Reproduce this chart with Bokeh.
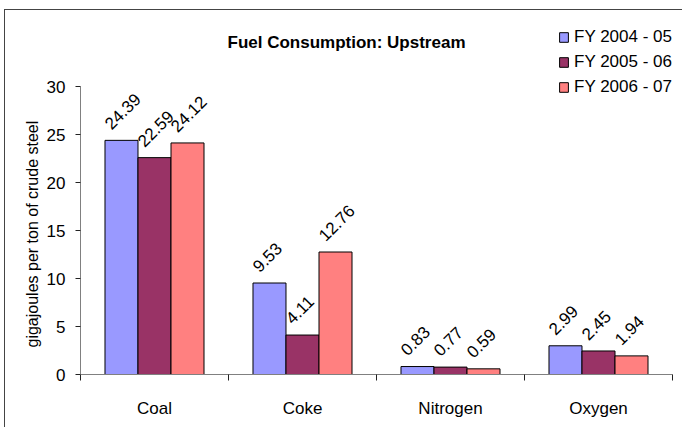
import numpy as np
from bokeh.plotting import figure
from bokeh.models import (ColumnDataSource, FixedTicker, Legend, LegendItem,
                          Label, Range1d, Title)
from bokeh.transform import dodge
from bokeh.core.properties import value
from bokeh.embed import file_html
from bokeh.resources import INLINE

# Fuel consumption per ton of crude steel (GJ/t), upstream processes
categories = ["Coal", "Coke", "Nitrogen", "Oxygen"]
years = ["FY 2004 - 05", "FY 2005 - 06", "FY 2006 - 07"]
fy_2004_05 = [24.39, 9.53, 0.83, 2.99]
fy_2005_06 = [22.59, 4.11, 0.77, 2.45]
fy_2006_07 = [24.12, 12.76, 0.59, 1.94]
colors = ["#9999FF", "#993366", "#FF8080"]
y_ticks = [0, 5, 10, 15, 20, 25, 30]
y_max = 30

FONT = "Liberation Sans"
n_cat = len(categories)
centers = [i + 0.5 for i in range(n_cat)]
bounds = list(range(n_cat + 1))

src = ColumnDataSource(dict(x=centers, cat=categories,
                            s0=fy_2004_05, s1=fy_2005_06, s2=fy_2006_07,
                            t0=[f"{v:.2f}" for v in fy_2004_05],
                            t1=[f"{v:.2f}" for v in fy_2005_06],
                            t2=[f"{v:.2f}" for v in fy_2006_07]))

# the frame fills the canvas above and to the right, so the title and legend
# sit inside it; both axes are bounded to the data span
W, H = 678, 418
border_l, border_r, border_t, border_b = 75, 0, 0, 54
axis_px_y = 288   # pixel height of the 0..30 span
axis_px_x = 592   # pixel width of the four categories
frame_h = H - border_t - border_b
frame_w = W - border_l - border_r
y_end = y_max * frame_h / axis_px_y
x_end = n_cat * frame_w / axis_px_x

p = figure(width=W, height=H, output_backend="svg", toolbar_location=None,
           x_range=Range1d(0, x_end), y_range=Range1d(0, y_end),
           min_border_left=border_l, min_border_right=border_r,
           min_border_top=border_t, min_border_bottom=border_b,
           background_fill_color="white", border_fill_color="white")
p.styles = {"margin-left": "4px", "margin-top": "9px",
            "border-left": "1px solid #444", "border-top": "1px solid #444"}
p.outline_line_color = None
p.xgrid.visible = False
p.ygrid.visible = False

bar_w = 0.223
offsets = [-bar_w, 0.0, bar_w]
renderers = []
for k, (col, tcol) in enumerate([("s0", "t0"), ("s1", "t1"), ("s2", "t2")]):
    r = p.vbar(x=dodge("x", offsets[k], range=p.x_range), top=col, width=bar_w,
               source=src, fill_color=colors[k], line_color="black",
               line_width=1)
    renderers.append(r)
    p.text(x=dodge("x", offsets[k], range=p.x_range), y=col, text=tcol,
           source=src, angle=np.pi / 4, x_offset=-14, y_offset=-14,
           text_align="left", text_baseline="alphabetic",
           text_font=value(FONT), text_font_size="17px", text_color="black")

# x axis: labels at category centres, tick marks between categories
xa = p.xaxis[0]
xa.ticker = FixedTicker(ticks=centers, minor_ticks=bounds)
xa.bounds = (0, n_cat)
xa.major_label_overrides = {c: name for c, name in zip(centers, categories)}
xa.major_tick_line_color = None
xa.major_tick_out = 0
xa.major_tick_in = 0
xa.minor_tick_out = 6
xa.minor_tick_in = 0
xa.minor_tick_line_color = "#222222"
xa.axis_line_color = "#808080"
xa.major_label_standoff = 18
xa.major_label_text_font = FONT
xa.major_label_text_font_size = "17px"
xa.major_label_text_color = "black"

ya = p.yaxis[0]
ya.ticker = FixedTicker(ticks=y_ticks, minor_ticks=[])
ya.bounds = (0, y_max)
ya.axis_line_color = "#808080"
ya.major_tick_line_color = "#222222"
ya.major_tick_out = 5
ya.major_tick_in = 0
ya.major_label_standoff = 10
ya.major_label_text_font = FONT
ya.major_label_text_font_size = "17px"
ya.major_label_text_color = "black"

# value-axis caption, anchored at the bottom of the 0..30 span
y_caption = Title(text="gigajoules per ton of crude steel", align="left",
                  offset=27, standoff=6, text_font=FONT,
                  text_font_size="16px", text_font_style="normal",
                  text_color="black")
p.add_layout(y_caption, "left")

legend = Legend(items=[LegendItem(label=years[k], renderers=[renderers[k]])
                       for k in range(3)],
                location=(478, 277), orientation="vertical",
                padding=0, margin=0, spacing=5, glyph_width=11,
                glyph_height=12, label_standoff=5, label_height=20,
                label_text_font=FONT, label_text_font_size="17px",
                label_text_color="black", border_line_color=None,
                background_fill_alpha=0)
p.add_layout(legend, "center")

title = Label(x=266, y=332, x_units="screen", y_units="screen",
              text="Fuel Consumption: Upstream", text_align="center",
              text_baseline="middle", text_font=FONT,
              text_font_size="17px", text_font_style="bold",
              text_color="black")
p.add_layout(title)

open("out.html", "w").write(file_html(p, INLINE))
